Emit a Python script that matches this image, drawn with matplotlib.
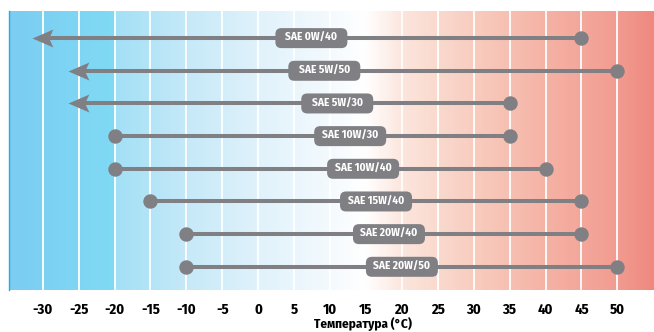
import numpy as np
import matplotlib
matplotlib.use("Agg")
from matplotlib import pyplot as plt
from matplotlib import transforms as mtransforms
from matplotlib.colors import LinearSegmentedColormap
from matplotlib.patches import FancyBboxPatch
from matplotlib.path import Path

plt.rcParams['font.family'] = ['Fira Sans Condensed', 'DejaVu Sans']

oils = ['SAE 0W/40', 'SAE 5W/50', 'SAE 5W/30', 'SAE 10W/30',
        'SAE 10W/40', 'SAE 15W/40', 'SAE 20W/40', 'SAE 20W/50']
t_low = [-31.5, -26.5, -26.5, -20, -20, -15, -10, -10]
t_high = [45, 50, 35, 35, 40, 45, 45, 50]
open_low = [True, True, True, False, False, False, False, False]
ticks = list(range(-30, 55, 5))

xmin, xmax = -34.7, 55.1
ymin, ymax = -0.83, 7.71
gray = '#808084'

fig = plt.figure(figsize=(6.54, 3.32), dpi=100)
ax = fig.add_axes([9 / 654, 42 / 332, 645 / 654, 279 / 332])

# cold-to-hot background
stops = [(-34.7, '#7bcdf2'), (-20.05, '#80daf4'), (-19.95, '#a2e0f6'),
         (-10, '#c6e9f8'), (0, '#e0f2fb'), (10, '#f4fafe'), (15, '#ffffff'),
         (20, '#fce6dd'), (30, '#f8cdbf'), (40, '#f5b3a5'), (50, '#f29c91'),
         (55.1, '#ef8980')]
cmap = LinearSegmentedColormap.from_list(
    'temp', [((x - xmin) / (xmax - xmin), c) for x, c in stops])
ax.imshow(np.linspace(0, 1, 800)[None, :], cmap=cmap, aspect='auto',
          extent=[xmin, xmax, ymax, ymin], zorder=0)

for t in ticks:
    ax.axvline(t, color='white', lw=1.3, zorder=1)

arrow = Path([(0, 0), (1, 0.43), (0.8, 0), (1, -0.43), (0, 0)],
             [Path.MOVETO, Path.LINETO, Path.LINETO, Path.LINETO, Path.CLOSEPOLY])

for i, name in enumerate(oils):
    ax.plot([t_low[i] + (2 if open_low[i] else 0), t_high[i]], [i, i],
            color=gray, lw=2.9, solid_capstyle='butt', zorder=2)
    ax.plot(t_high[i], i, 'o', color=gray, ms=10.4, mec='none', zorder=3)
    if open_low[i]:
        ax.plot(t_low[i], i, marker=arrow, color=gray, ms=30, mec='none', zorder=3)
    else:
        ax.plot(t_low[i], i, 'o', color=gray, ms=10.4, mec='none', zorder=3)

    # rounded name tag, fixed pixel size
    xc = 7.4 + 1.8 * i
    trans = mtransforms.Affine2D() + mtransforms.ScaledTranslation(xc, i, ax.transData)
    box = FancyBboxPatch((-36, -10), 72, 20, boxstyle='round,pad=0,rounding_size=6',
                         fc=gray, ec='none', transform=trans, zorder=4)
    ax.add_patch(box)
    ax.text(xc, i, name, color='white', fontsize=8.2, fontweight='bold',
            ha='center', va='center', zorder=5)

ax.set_xlim(xmin, xmax)
ax.set_ylim(ymax, ymin)
ax.set_xticks(ticks)
ax.set_xticklabels([str(t) for t in ticks], fontsize=10.5, fontweight='bold')
ax.set_yticks([])
ax.tick_params(axis='x', length=0, pad=9)
for side in ['top', 'right', 'bottom']:
    ax.spines[side].set_visible(False)
ax.spines['left'].set_color('#29a9e1')
ax.spines['left'].set_linewidth(1)

ax.set_xlabel('Температура (°C)', fontsize=9.5, fontweight='bold')
ax.xaxis.set_label_coords((363 - 9) / 645, -0.097)

fig.savefig('out.png', dpi=100)
